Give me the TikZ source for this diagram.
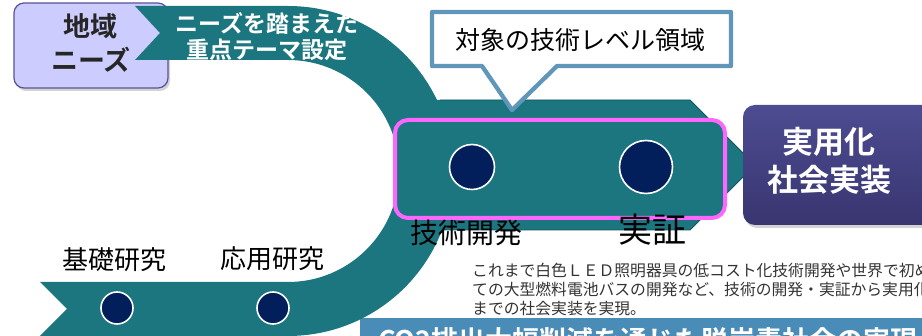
\documentclass[tikz,border=0pt]{standalone}
\usepackage{fontspec}
\setmainfont{Noto Sans CJK JP}[BoldFont={Noto Sans CJK JP Bold}]
\usetikzlibrary{shadows}
\definecolor{teal1}{HTML}{1B7680}
\definecolor{tealdark}{HTML}{11565C}
\definecolor{navy1}{HTML}{021F5C}
\definecolor{pink1}{HTML}{FF66FF}
\definecolor{callblue}{HTML}{6096BA}
\definecolor{lav}{HTML}{CCCCFF}
\definecolor{lavborder}{HTML}{5A5296}
\definecolor{purtop}{HTML}{4D4C92}
\definecolor{purbot}{HTML}{393570}
\definecolor{bandblue}{HTML}{4A8CB8}
\definecolor{paragray}{HTML}{333333}
\begin{document}
\begin{tikzpicture}[x=1pt,y=-1pt,
  dot/.style={circle, fill=navy1, draw=white, line width=1.6pt, inner sep=0pt},
  stagelabel/.style={font=\fontsize{26}{30}\selectfont, text=black, inner sep=0pt},
  whitebold/.style={text=white, font=\bfseries, align=center, inner sep=0pt},
  ribbon/.style={fill=teal1},
  paraline/.style={anchor=base west, inner sep=0pt, text=paragray, font=\fontsize{15.8}{19}\selectfont},
  softshadow/.style={drop shadow={opacity=0.35, shadow xshift=2pt, shadow yshift=-3pt}}]
\useasboundingbox (0,0) rectangle (922,336);
\clip (0,0) rectangle (922,336);

% bottom blue band
\fill[bandblue] (360,318) rectangle (930,345);
\node[whitebold, anchor=base west, font=\fontsize{27}{30}\selectfont\bfseries] (goal) at (378,351) {CO2排出大幅削減を通じた脱炭素社会の実現};

% lavender needs box
\node[draw=lavborder, line width=1.2pt, fill=lav, rounded corners=10pt,
  minimum width=154pt, minimum height=85pt, softshadow] (needsbox) at (91,45.5) {};
\node[align=center, inner sep=0pt, text=black!85, font=\fontsize{27}{34}\selectfont\bfseries] (needs) at (91,43) {地域\\ニーズ};

% middle band
\fill[ribbon] (395,100) -- (690,100) -- (755,165) -- (690,230) -- (395,230) -- cycle;
\draw[tealdark, line width=0.9pt] (440,100) -- (690,100) -- (755,165) -- (690,230) -- (430,230);

% loop ribbon
\fill[ribbon] (135,6) -- (288,6) arc[start angle=-90, end angle=90, radius=165]
  -- (40,336) -- (67,309) -- (40,282) -- (288,282)
  arc[start angle=90, end angle=-90, radius=111]
  -- (135,60) -- (160,33) -- cycle;

% top band text
\node[whitebold, font=\fontsize{23}{26}\selectfont\bfseries] (theme) at (267,37) {ニーズを踏まえた\\重点テーマ設定};

% callout
\draw[callblue, fill=white, line width=4.3pt, line join=round]
  (432,12) -- (731,12) -- (731,66) -- (557,66) -- (512,110) -- (482,66) -- (432,66) -- cycle;
\node[inner sep=0pt, font=\fontsize{25}{28}\selectfont] (calltext) at (580,40) {対象の技術レベル領域};

% pink frame
\draw[pink1, fill=teal1, line width=4pt, rounded corners=13pt] (395,120) rectangle (725,218);

% circles
\node[dot, minimum size=32pt] (c1) at (117,308) {};
\node[dot, minimum size=32pt] (c2) at (273,308) {};
\node[dot, minimum size=45pt] (c3) at (472,167) {};
\node[dot, minimum size=53pt] (c4) at (646,167) {};

% stage labels
\node[stagelabel] (l1) at (114,260) {基礎研究};
\node[stagelabel] (l2) at (272,259) {応用研究};
\node[stagelabel, font=\fontsize{28}{30}\selectfont] (l3) at (466,233) {技術開発};
\node[stagelabel, font=\fontsize{34}{36}\selectfont] (l4) at (652,230) {実証};

% practical use box
\node[rounded corners=12pt, minimum width=197pt, minimum height=120pt,
  top color=purtop, bottom color=purbot, draw=none, softshadow] (usebox) at (841.5,165) {};
\node[whitebold, font=\fontsize{31}{38}\selectfont\bfseries] (usetext) at (829,161) {実用化\\社会実装};

% paragraph
\node[paraline] (para1) at (472,277) {これまで白色ＬＥＤ照明器具の低コスト化技術開発や世界で初め};
\node[paraline] (para2) at (472,296) {ての大型燃料電池バスの開発など、技術の開発・実証から実用化};
\node[paraline] (para3) at (472,315) {までの社会実装を実現。};
\end{tikzpicture}
\end{document}
